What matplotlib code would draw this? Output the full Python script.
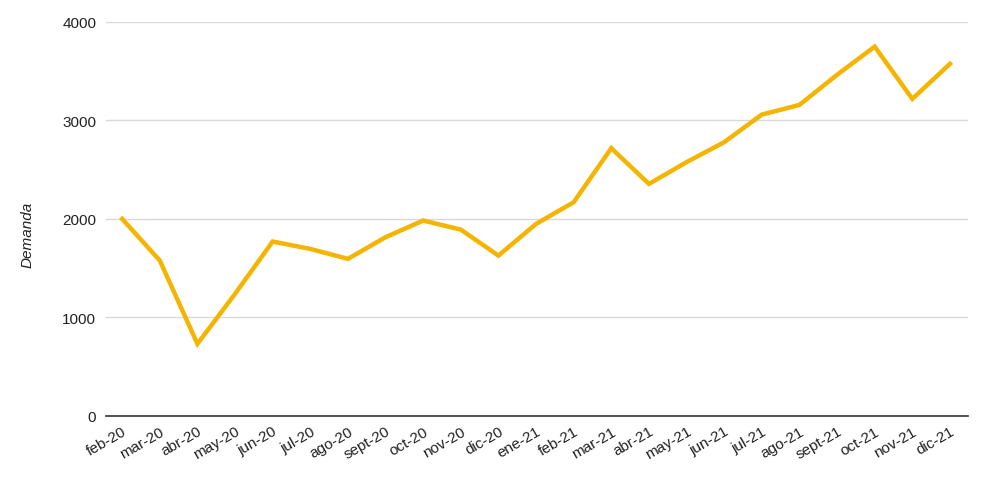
import numpy as np
import matplotlib.pyplot as plt

plt.rcParams['font.family'] = ['Liberation Sans', 'DejaVu Sans']

meses = ['feb-20', 'mar-20', 'abr-20', 'may-20', 'jun-20', 'jul-20', 'ago-20',
         'sept-20', 'oct-20', 'nov-20', 'dic-20', 'ene-21', 'feb-21', 'mar-21',
         'abr-21', 'may-21', 'jun-21', 'jul-21', 'ago-21', 'sept-21', 'oct-21',
         'nov-21', 'dic-21']
demanda = [1997, 1574, 728, 1236, 1767, 1692, 1591, 1811, 1980, 1888, 1624,
           1946, 2166, 2715, 2352, 2573, 2776, 3056, 3154, 3460, 3746, 3215, 3571]

fig = plt.figure(figsize=(10, 4.81), dpi=100)
ax = fig.add_axes([0.106, 0.134, 0.862, 0.819])

x = np.arange(len(meses))
ax.plot(x, demanda, color='#f4b400', linewidth=3.2, solid_joinstyle='miter')

ax.set_ylim(0, 4000)
ax.set_xlim(-0.43, len(meses) - 1 + 0.48)
ax.set_yticks([0, 1000, 2000, 3000, 4000])
ax.yaxis.grid(True, color='#d9d9d9', linewidth=1)
ax.set_axisbelow(True)

for s in ['top', 'right', 'left']:
    ax.spines[s].set_visible(False)
ax.spines['bottom'].set_color('#333333')
ax.spines['bottom'].set_linewidth(1.2)

ax.set_xticks(x)
ax.set_xticklabels(meses, rotation=30, ha='right', rotation_mode='anchor')
ax.tick_params(axis='both', length=0, labelsize=11, labelcolor='#222222')
ax.tick_params(axis='x', pad=6)
ax.tick_params(axis='y', pad=7)

ax.set_ylabel('Demanda', fontstyle='italic', fontsize=11, color='#222222')
ax.yaxis.set_label_coords(-0.083, 0.46)

fig.savefig('out.png', dpi=100, facecolor='white')
